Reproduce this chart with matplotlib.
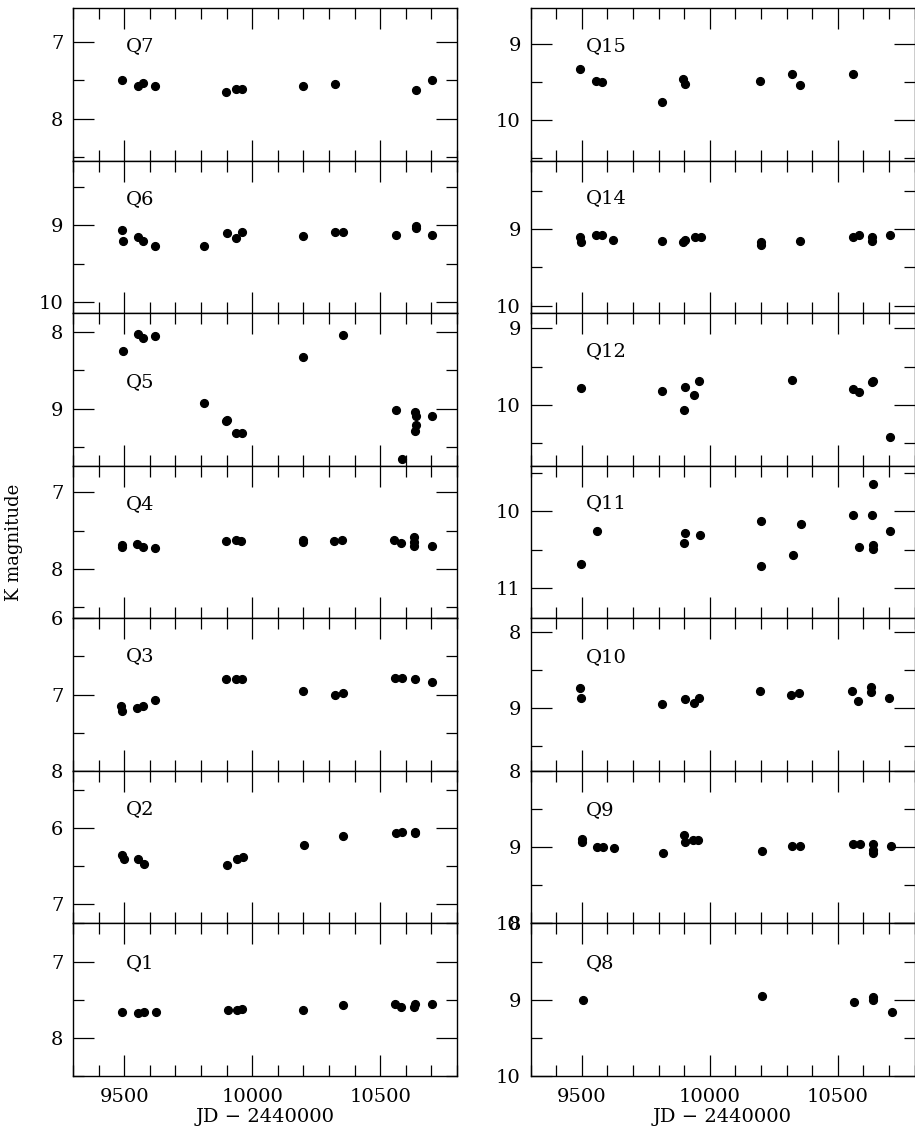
import matplotlib
matplotlib.use("Agg")
import matplotlib.pyplot as plt
from matplotlib.ticker import MultipleLocator

plt.rcParams['font.family'] = ['DejaVu Serif']

# ---- left column (top to bottom) ----
q7_jd = [9492, 9554, 9575, 9621, 9897, 9936, 9959, 10197, 10324, 10638, 10703]
q7_k = [7.49, 7.57, 7.53, 7.57, 7.65, 7.61, 7.61, 7.57, 7.54, 7.62, 7.50]

q6_jd = [9492, 9496, 9554, 9573, 9621, 9812, 9901, 9936, 9960, 10199, 10324, 10353, 10560, 10638, 10638, 10704]
q6_k = [9.06, 9.20, 9.15, 9.21, 9.27, 9.27, 9.10, 9.16, 9.09, 9.14, 9.09, 9.08, 9.13, 9.01, 9.04, 9.13]

q5_jd = [9495, 9552, 9573, 9621, 9813, 9897, 9901, 9936, 9960, 10199, 10353, 10560, 10587, 10635, 10638, 10638, 10635, 10704]
q5_k = [8.24, 8.02, 8.07, 8.05, 8.93, 9.17, 9.15, 9.32, 9.32, 8.33, 8.03, 9.02, 9.66, 9.05, 9.10, 9.21, 9.30, 9.10]

q4_jd = [9491, 9493, 9551, 9572, 9620, 9897, 9935, 9958, 10197, 10197, 10321, 10352, 10555, 10583, 10633, 10633, 10633, 10701]
q4_k = [7.69, 7.72, 7.68, 7.72, 7.73, 7.64, 7.62, 7.64, 7.62, 7.65, 7.64, 7.63, 7.62, 7.66, 7.58, 7.65, 7.70, 7.70]

q3_jd = [9488, 9492, 9551, 9572, 9620, 9898, 9935, 9959, 10200, 10325, 10355, 10558, 10585, 10636, 10704]
q3_k = [7.15, 7.21, 7.17, 7.15, 7.07, 6.80, 6.79, 6.79, 6.95, 7.00, 6.98, 6.78, 6.78, 6.79, 6.83]

q2_jd = [9492, 9499, 9553, 9577, 9903, 9940, 9963, 10202, 10355, 10560, 10585, 10634, 10635]
q2_k = [6.35, 6.40, 6.41, 6.47, 6.49, 6.41, 6.38, 6.22, 6.11, 6.07, 6.05, 6.05, 6.07]

q1_jd = [9493, 9555, 9578, 9624, 9905, 9941, 9960, 10200, 10354, 10559, 10582, 10633, 10635, 10702]
q1_k = [7.66, 7.67, 7.66, 7.66, 7.63, 7.64, 7.62, 7.63, 7.57, 7.55, 7.59, 7.59, 7.56, 7.56]

# ---- right column (top to bottom) ----
q15_jd = [9492, 9554, 9579, 9814, 9895, 9904, 10198, 10323, 10353, 10558]
q15_k = [9.33, 9.49, 9.50, 9.76, 9.46, 9.53, 9.49, 9.40, 9.54, 9.40]

q14_jd = [9492, 9498, 9557, 9579, 9623, 9814, 9897, 9902, 9943, 9966, 10199, 10199, 10353, 10560, 10582, 10635, 10635, 10703]
q14_k = [9.10, 9.17, 9.07, 9.07, 9.14, 9.16, 9.17, 9.14, 9.10, 9.10, 9.17, 9.21, 9.15, 9.10, 9.07, 9.10, 9.15, 9.07]

q12_jd = [9497, 9815, 9904, 9900, 9940, 9960, 10323, 10560, 10583, 10635, 10636, 10703]
q12_k = [9.78, 9.82, 9.77, 10.07, 9.87, 9.69, 9.67, 9.80, 9.84, 9.70, 9.69, 10.42]

q11_jd = [9497, 9558, 9900, 9905, 9962, 10200, 10201, 10324, 10355, 10561, 10583, 10637, 10633, 10637, 10637, 10704]
q11_k = [10.69, 10.25, 10.41, 10.28, 10.31, 10.12, 10.71, 10.57, 10.16, 10.05, 10.46, 9.64, 10.04, 10.44, 10.49, 10.26]

q10_jd = [9494, 9498, 9813, 9902, 9938, 9957, 10198, 10319, 10350, 10557, 10581, 10631, 10631, 10699]
q10_k = [8.73, 8.87, 8.95, 8.88, 8.93, 8.87, 8.77, 8.83, 8.80, 8.77, 8.91, 8.72, 8.78, 8.86]

q9_jd = [9500, 9503, 9558, 9582, 9625, 9819, 9900, 9904, 9935, 9955, 10203, 10323, 10354, 10561, 10588, 10637, 10637, 10639, 10707]
q9_k = [8.89, 8.93, 9.00, 9.00, 9.01, 9.08, 8.84, 8.93, 8.91, 8.90, 9.05, 8.99, 8.99, 8.96, 8.96, 8.96, 9.04, 9.08, 8.99]

q8_jd = [9504, 10203, 10565, 10637, 10637, 10711]
q8_k = [9.00, 8.95, 9.03, 8.97, 9.01, 9.16]

left_names = ['Q7', 'Q6', 'Q5', 'Q4', 'Q3', 'Q2', 'Q1']
left_data = [(q7_jd, q7_k), (q6_jd, q6_k), (q5_jd, q5_k), (q4_jd, q4_k),
             (q3_jd, q3_k), (q2_jd, q2_k), (q1_jd, q1_k)]
right_names = ['Q15', 'Q14', 'Q12', 'Q11', 'Q10', 'Q9', 'Q8']
right_data = [(q15_jd, q15_k), (q14_jd, q14_k), (q12_jd, q12_k), (q11_jd, q11_k),
              (q10_jd, q10_k), (q9_jd, q9_k), (q8_jd, q8_k)]

# y ranges (bottom value, top value) -- magnitudes run downward
left_ylim = [(8.55, 6.55), (10.15, 8.15), (9.75, 7.75), (8.65, 6.65),
             (8.0, 6.0), (7.25, 5.25), (8.5, 6.5)]
right_ylim = [(10.53, 8.53), (10.1, 8.1), (10.8, 8.8), (11.4, 9.4),
              (9.82, 7.82), (10.0, 8.0), (10.0, 8.0)]
left_labpos = [0.75, 0.75, 0.545, 0.75, 0.75, 0.75, 0.74]
right_labpos = [0.75, 0.755, 0.75, 0.755, 0.745, 0.745, 0.74]

W, H = 915, 1135
fig = plt.figure(figsize=(W / 100, H / 100), dpi=100)

top_px, bot_px = 8, 1076
ph = (bot_px - top_px) / 7.0
aw = 384.0


def make_panel(x0, i, name, data, ylim, labpos, labx, bottom):
    y0 = H - (top_px + (i + 1) * ph)
    ax = fig.add_axes([x0 / W, y0 / H, aw / W, ph / H])
    jd, k = data
    ax.plot(jd, k, 'o', color='black', ms=5.6, mec='black')
    ax.set_xlim(9300, 10800)
    ax.set_ylim(*ylim)
    ax.xaxis.set_major_locator(MultipleLocator(500))
    ax.xaxis.set_minor_locator(MultipleLocator(100))
    ax.yaxis.set_major_locator(MultipleLocator(1))
    ax.yaxis.set_minor_locator(MultipleLocator(0.5))
    ax.tick_params(which='both', direction='in', top=True, right=True,
                   width=0.9, labelsize=14)
    ax.tick_params(which='major', length=15, pad=7)
    ax.tick_params(which='minor', length=8)
    ax.tick_params(axis='x', which='major', pad=9)
    if not bottom:
        ax.tick_params(labelbottom=False)
    for sp in ax.spines.values():
        sp.set_linewidth(1.0)
    ax.text(labx, labpos, name, transform=ax.transAxes, fontsize=14,
            ha='left', va='center')
    if bottom:
        ax.set_xlabel('JD \u2212 2440000', fontsize=14, labelpad=1)
    return ax


for i in range(7):
    make_panel(73, i, left_names[i], left_data[i], left_ylim[i],
               left_labpos[i], 0.137, i == 6)
    make_panel(530.5, i, right_names[i], right_data[i], right_ylim[i],
               right_labpos[i], 0.145, i == 6)

fig.text(14 / W, 1 - 542 / H, 'K magnitude', rotation=90, fontsize=13,
         ha='center', va='center')

fig.savefig('out.png', dpi=100)
